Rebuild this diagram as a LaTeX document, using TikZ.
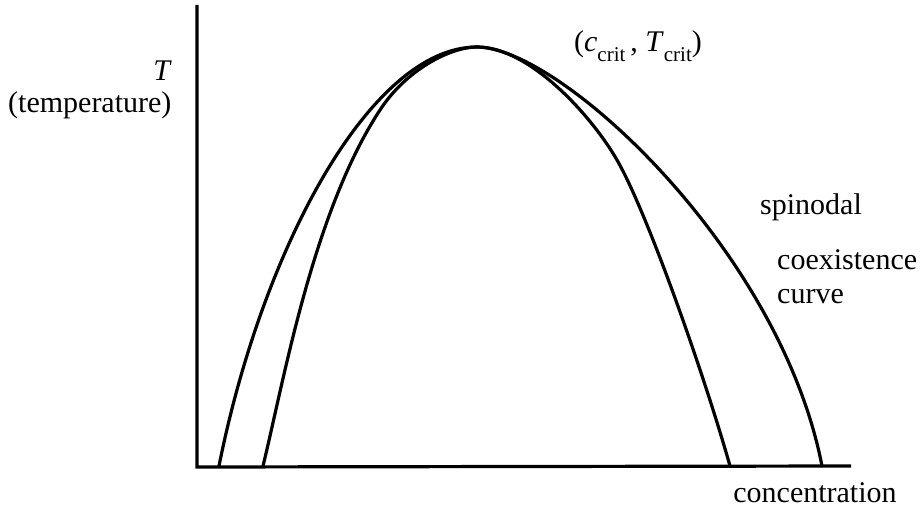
\documentclass[tikz,border=0pt]{standalone}
\usepackage{fontspec}
\setmainfont{Liberation Serif}
\newcommand\lowsub[1]{\raisebox{-0.32em}{\fontsize{21}{21}\selectfont #1}}
\begin{document}
\begin{tikzpicture}[x=1pt,y=-1pt,
  curve/.style={line width=3.2pt,line join=round,line cap=round},
  axis/.style={line width=3.2pt},
  lbl/.style={font=\fontsize{30}{34}\selectfont,inner sep=0pt}]
\useasboundingbox (0,0) rectangle (921,511);
% axes
\coordinate (top) at (197,5);
\coordinate (orig) at (197,467);
\coordinate (xend) at (851,466);
\draw[axis] (top) -- (orig) -- (xend);
% coexistence curve (outer)
\coordinate (peak) at (477,47);
\coordinate (cl) at (219,466);
\coordinate (cr) at (822,466);
\draw[curve] (cl) .. controls (262,250) and (370,47) .. (peak)
  .. controls (560,47) and (780,250) .. (cr);
% spinodal (inner)
\coordinate (sl) at (263,466);
\coordinate (sr) at (730,466);
\draw[curve] (sl) .. controls (284,380) and (313,212) .. (380,110)
  .. controls (406,70) and (450,47) .. (peak)
  .. controls (530,47) and (592,116.5) .. (617,160)
  .. controls (647,212) and (704,374) .. (sr);
% labels
\node[lbl,anchor=east] (T) at (172,71) {\textit{T}};
\node[lbl,anchor=west] (temp) at (8,105) {(temperature)};
\node[lbl] (crit) at (638,46) {(\textit{c}\lowsub{crit}\,, \textit{T}\lowsub{crit})};
\node[lbl,anchor=west] (spin) at (760,207) {spinodal};
\node[lbl,anchor=north west,align=left] (coex) at (777,249) {coexistence\\curve};
\node[lbl] (conc) at (815,493) {concentration};
\end{tikzpicture}
\end{document}
